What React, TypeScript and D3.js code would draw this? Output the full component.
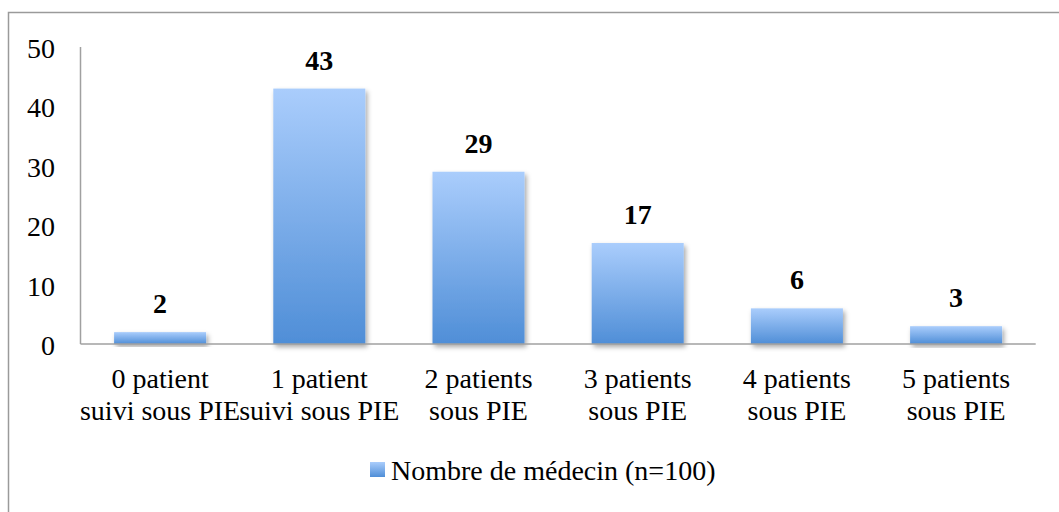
import React from "react";
import * as d3 from "d3";

const categories: string[][] = [
  ["0 patient", "suivi sous PIE"],
  ["1 patient", "suivi sous PIE"],
  ["2 patients", "sous PIE"],
  ["3 patients", "sous PIE"],
  ["4 patients", "sous PIE"],
  ["5 patients", "sous PIE"],
];
const values: number[] = [2, 43, 29, 17, 6, 3];
const yTicks: number[] = [0, 10, 20, 30, 40, 50];
const seriesName = "Nombre de médecin (n=100)";

const W = 1059;
const H = 512;
const FONT = "'Liberation Serif', 'Times New Roman', serif";
const FS = 28;

export default function App() {
  const left = 80.5;
  const right = 1035.7;
  const top = 47;
  const bottom = 344;
  const x = d3.scaleBand<number>().domain(d3.range(categories.length)).range([left, right]).padding(0);
  const y = d3.scaleLinear().domain([0, 50]).range([bottom, top]);
  const barW = x.bandwidth() * 0.578;

  return (
    <svg width={W} height={H} style={{ position: "absolute", left: 0, top: 0 }}>
      <defs>
        <linearGradient id="barGrad" x1="0" y1="0" x2="0" y2="1">
          <stop offset="0%" stopColor="#aacdfc" />
          <stop offset="100%" stopColor="#4f8ed7" />
        </linearGradient>
        <filter id="shadow" x="-20%" y="-20%" width="140%" height="140%">
          <feDropShadow dx="2" dy="3" stdDeviation="2.5" floodColor="#000" floodOpacity="0.35" />
        </filter>
      </defs>
      <rect x={0} y={0} width={W} height={H} fill="#fff" />
      <rect x={8.5} y={12.5} width={W + 10} height={H + 10} fill="none" stroke="#9a9a9a" strokeWidth={1.5} />

      {values.map((v, i) => {
        const cx = (x(i) as number) + x.bandwidth() / 2;
        return (
          <g key={i}>
            <rect
              x={cx - barW / 2}
              y={y(v)}
              width={barW}
              height={y(0) - y(v)}
              fill="url(#barGrad)"
              filter="url(#shadow)"
            />
            <text
              x={cx}
              y={y(v) - 19}
              textAnchor="middle"
              fontFamily={FONT}
              fontSize={FS}
              fontWeight="bold"
              fill="#000"
            >
              {v}
            </text>
          </g>
        );
      })}

      <line x1={left} x2={left} y1={top} y2={bottom} stroke="#a0a0a0" strokeWidth={1.5} />
      <line x1={left} x2={right} y1={bottom} y2={bottom} stroke="#a0a0a0" strokeWidth={1.5} />

      {yTicks.map((t) => (
        <text key={t} x={55} y={y(t) + 11} textAnchor="end" fontFamily={FONT} fontSize={FS} fill="#000">
          {t}
        </text>
      ))}

      {categories.map((lines, i) => {
        const cx = (x(i) as number) + x.bandwidth() / 2;
        return (
          <text key={i} textAnchor="middle" fontFamily={FONT} fontSize={FS} fill="#000">
            {lines.map((l, j) => (
              <tspan key={j} x={cx} y={388 + j * 32}>
                {l}
              </tspan>
            ))}
          </text>
        );
      })}

      <rect x={370} y={462} width={15} height={15} fill="url(#barGrad)" />
      <text x={391} y={480} fontFamily={FONT} fontSize={FS} fill="#000">
        {seriesName}
      </text>
    </svg>
  );
}
